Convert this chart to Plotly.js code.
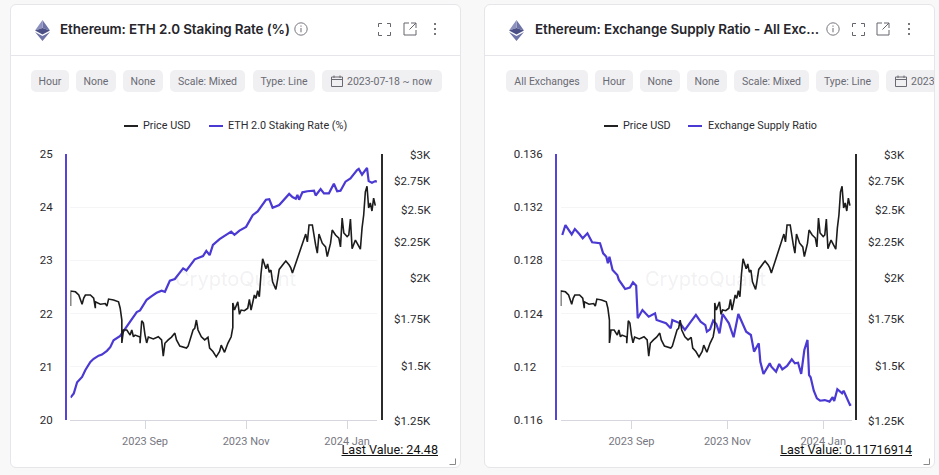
<!DOCTYPE html>
<html>
<head>
<meta charset="utf-8">
<script src="https://cdn.plot.ly/plotly-3.0.1.min.js"></script>
<style>
html, body { margin: 0; padding: 0; background: #f8f8f9; width: 939px; height: 475px; overflow: hidden; font-family: Inter, Roboto, sans-serif; }
.card { position: absolute; top: 4px; height: 462px; width: 449px; background: #fff; border: 1px solid #e6e6ea; border-radius: 6px; overflow: hidden; }
.head { position: absolute; left: 0; right: 0; top: 0; height: 50px; border-bottom: 1px solid #e6e6ea; }
.title { position: absolute; top: 16px; font-size: 13.45px; font-weight: 600; color: #26262c; white-space: nowrap; letter-spacing: -0.1px; }
.chip { position: absolute; top: 65px; height: 22px; line-height: 23px; background: #f0f0f3; border-radius: 5px; color: #6a6a72; font-family: Roboto, sans-serif; font-size: 10.5px; text-align: center; white-space: nowrap; }
.legend { position: absolute; top: 113px; font-family: Roboto, sans-serif; font-size: 10.8px; color: #2c2c30; white-space: nowrap; line-height: 16px; }
.swatch { position: absolute; height: 2px; width: 14px; top: 120px; }
.plot { position: absolute; left: 0; top: 134px; }
.last { position: absolute; top: 437px; font-family: Roboto, sans-serif; font-size: 12.6px; color: #111; text-decoration: underline; white-space: nowrap; }
.ico { position: absolute; }
</style>
</head>
<body>
<div class="card" id="card-staking" style="left:10px"></div>
<div class="card" id="card-ratio" style="left:484px"></div>
<script>
const priceDates = ["2023-07-18","2023-07-18","2023-07-21","2023-07-23","2023-07-25","2023-07-26","2023-07-27","2023-07-30","2023-08-01","2023-08-02","2023-08-02","2023-08-05","2023-08-08","2023-08-09","2023-08-10","2023-08-13","2023-08-16","2023-08-17","2023-08-18","2023-08-18","2023-08-19","2023-08-21","2023-08-23","2023-08-24","2023-08-25","2023-08-26","2023-08-29","2023-08-29","2023-08-30","2023-08-31","2023-09-01","2023-09-02","2023-09-03","2023-09-06","2023-09-09","2023-09-11","2023-09-12","2023-09-13","2023-09-15","2023-09-17","2023-09-19","2023-09-20","2023-09-22","2023-09-24","2023-09-26","2023-09-27","2023-09-29","2023-09-30","2023-10-01","2023-10-02","2023-10-03","2023-10-05","2023-10-07","2023-10-09","2023-10-10","2023-10-12","2023-10-14","2023-10-16","2023-10-17","2023-10-19","2023-10-21","2023-10-23","2023-10-24","2023-10-24","2023-10-25","2023-10-27","2023-10-28","2023-10-29","2023-10-31","2023-11-02","2023-11-03","2023-11-04","2023-11-06","2023-11-07","2023-11-08","2023-11-09","2023-11-10","2023-11-11","2023-11-13","2023-11-14","2023-11-15","2023-11-16","2023-11-17","2023-11-19","2023-11-20","2023-11-21","2023-11-24","2023-11-25","2023-11-27","2023-11-28","2023-11-29","2023-12-01","2023-12-03","2023-12-05","2023-12-06","2023-12-07","2023-12-08","2023-12-09","2023-12-11","2023-12-12","2023-12-13","2023-12-14","2023-12-15","2023-12-17","2023-12-19","2023-12-20","2023-12-22","2023-12-23","2023-12-25","2023-12-27","2023-12-28","2023-12-29","2023-12-30","2024-01-01","2024-01-02","2024-01-03","2024-01-04","2024-01-06","2024-01-07","2024-01-09","2024-01-10","2024-01-11","2024-01-12","2024-01-13","2024-01-14","2024-01-15","2024-01-16","2024-01-17","2024-01-18"];
const priceValues = [1819,1911,1906,1886,1830,1867,1886,1886,1867,1806,1844,1830,1834,1818,1861,1855,1844,1806,1737,1611,1681,1681,1653,1681,1644,1653,1642,1609,1733,1720,1653,1611,1642,1632,1644,1627,1542,1609,1627,1642,1664,1627,1594,1589,1584,1594,1644,1681,1690,1737,1681,1644,1627,1641,1584,1566,1539,1566,1599,1562,1609,1644,1695,1837,1795,1844,1770,1795,1791,1806,1859,1795,1886,1865,1913,1875,2021,2125,2056,2089,2033,2048,1970,1921,1982,2052,2095,2109,2082,2062,2028,2095,2165,2237,2260,2305,2247,2375,2375,2275,2222,2165,2305,2237,2210,2140,2237,2336,2298,2275,2210,2430,2313,2286,2298,2422,2197,2260,2237,2193,2351,2454,2648,2698,2512,2554,2487,2595,2531];

const stakingDates = ["2023-07-18","2023-07-20","2023-07-22","2023-07-25","2023-07-27","2023-07-30","2023-08-01","2023-08-04","2023-08-06","2023-08-09","2023-08-11","2023-08-13","2023-08-17","2023-08-20","2023-08-24","2023-08-27","2023-08-29","2023-09-02","2023-09-05","2023-09-08","2023-09-11","2023-09-13","2023-09-16","2023-09-19","2023-09-22","2023-09-24","2023-09-26","2023-10-01","2023-10-06","2023-10-08","2023-10-10","2023-10-12","2023-10-16","2023-10-19","2023-10-23","2023-10-25","2023-10-28","2023-11-01","2023-11-03","2023-11-05","2023-11-08","2023-11-10","2023-11-13","2023-11-15","2023-11-17","2023-11-21","2023-11-24","2023-11-27","2023-11-29","2023-12-01","2023-12-02","2023-12-03","2023-12-05","2023-12-08","2023-12-12","2023-12-13","2023-12-16","2023-12-18","2023-12-21","2023-12-24","2023-12-26","2023-12-28","2023-12-31","2024-01-03","2024-01-07","2024-01-08","2024-01-10","2024-01-13","2024-01-14","2024-01-16","2024-01-18","2024-01-19"];
const stakingValues = [20.42,20.50,20.71,20.81,20.94,21.09,21.15,21.21,21.23,21.30,21.37,21.50,21.58,21.71,21.89,22.03,22.06,22.26,22.33,22.39,22.43,22.41,22.62,22.65,22.77,22.85,22.81,23.02,23.08,23.18,23.10,23.29,23.40,23.46,23.54,23.48,23.56,23.63,23.73,23.85,23.92,24.01,24.14,24.15,23.99,24.04,24.15,24.25,24.19,24.16,24.23,24.14,24.28,24.30,24.31,24.22,24.34,24.26,24.26,24.44,24.30,24.31,24.48,24.54,24.70,24.72,24.61,24.74,24.49,24.46,24.49,24.48];

const ratioDates = ["2023-07-19","2023-07-21","2023-07-25","2023-07-27","2023-07-30","2023-08-01","2023-08-04","2023-08-07","2023-08-12","2023-08-14","2023-08-16","2023-08-17","2023-08-18","2023-08-20","2023-08-23","2023-08-24","2023-08-28","2023-08-31","2023-09-02","2023-09-04","2023-09-05","2023-09-08","2023-09-12","2023-09-16","2023-09-17","2023-09-23","2023-09-26","2023-09-27","2023-10-02","2023-10-05","2023-10-08","2023-10-12","2023-10-15","2023-10-18","2023-10-19","2023-10-21","2023-10-23","2023-10-25","2023-10-27","2023-10-29","2023-11-02","2023-11-05","2023-11-08","2023-11-11","2023-11-13","2023-11-16","2023-11-18","2023-11-21","2023-11-22","2023-11-24","2023-11-28","2023-11-29","2023-12-02","2023-12-04","2023-12-06","2023-12-09","2023-12-12","2023-12-14","2023-12-16","2023-12-18","2023-12-20","2023-12-22","2023-12-23","2023-12-24","2023-12-26","2023-12-28","2023-12-30","2024-01-02","2024-01-05","2024-01-07","2024-01-08","2024-01-10","2024-01-13","2024-01-14","2024-01-16","2024-01-18","2024-01-19"];
const ratioValues = [0.12991,0.13066,0.12996,0.13036,0.12996,0.12966,0.13004,0.12936,0.12929,0.12853,0.12828,0.12778,0.12828,0.12728,0.12690,0.12653,0.12585,0.12595,0.12635,0.12610,0.12365,0.12427,0.12377,0.12402,0.12352,0.12327,0.12289,0.12352,0.12327,0.12277,0.12327,0.12390,0.12339,0.12314,0.12264,0.12282,0.12347,0.12322,0.12252,0.12397,0.12327,0.12222,0.12397,0.12314,0.12264,0.12239,0.12114,0.12177,0.12038,0.11946,0.12026,0.12001,0.11963,0.12021,0.11981,0.12006,0.12056,0.12026,0.12031,0.11946,0.12126,0.12202,0.11938,0.11921,0.11820,0.11763,0.11745,0.11750,0.11738,0.11771,0.11743,0.11831,0.11801,0.11820,0.11763,0.11713,0.11716914];

const priceTicks = [1250, 1500, 1750, 2000, 2250, 2500, 2750, 3000];
const priceTickLabels = ["$1.25K", "$1.5K", "$1.75K", "$2K", "$2.25K", "$2.5K", "$2.75K", "$3K"];
const xTicks = ["2023-09-01", "2023-11-01", "2024-01-01"];
const stakingTicks = [20, 21, 22, 23, 24, 25];
const stakingTickLabels = ["20", "21", "22", "23", "24", "25"];
const ratioTicks = [0.116, 0.12, 0.124, 0.128, 0.132, 0.136];
const ratioTickLabels = ["0.116", "0.12\u2007", "0.124", "0.128", "0.132", "0.136"];

const BLUE = "#4a39d3";
const FONT = "Roboto, Inter, sans-serif";

const ETH_ICON = `<svg width="15" height="21" viewBox="0 0 15 21"><polygon points="7.5,0 15,10.5 7.5,8" fill="#6f74a8"/><polygon points="7.5,0 0,10.5 7.5,8" fill="#8d91bd"/><polygon points="7.5,8 15,10.5 7.5,14.5 0,10.5" fill="#4a4f85"/><polygon points="0,12 7.5,16 15,12 7.5,21" fill="#6f74a8"/></svg>`;
const INFO_ICON = `<svg width="14" height="14" viewBox="0 0 14 14"><circle cx="7" cy="7" r="6.2" fill="none" stroke="#77777f"/><path d="M7 6v4.2M7 3.6v1.2" stroke="#77777f" stroke-width="1.1"/></svg>`;
const FULL_ICON = `<svg width="13" height="13" viewBox="0 0 13 13"><path d="M.5 4V.5H4M9 .5h3.5V4M12.5 9v3.5H9M4 12.5H.5V9" fill="none" stroke="#66666e"/></svg>`;
const OPEN_ICON = `<svg width="14" height="14" viewBox="0 0 14 14"><path d="M6 1H1v12h12V8M8 1h5v5M13 1 6.5 7.5" fill="none" stroke="#66666e"/></svg>`;
const DOTS_ICON = `<svg width="4" height="14" viewBox="0 0 4 14"><circle cx="2" cy="2" r="1.1" fill="#55555c"/><circle cx="2" cy="7" r="1.1" fill="#55555c"/><circle cx="2" cy="12" r="1.1" fill="#55555c"/></svg>`;
const DATE_CHIP = `<svg width="12" height="12" viewBox="0 0 12 12" style="vertical-align:-2px;margin:0 4px 0 9px"><path d="M.5 2h11v9.5H.5zM.5 4.5h11M3 .5V3M9 .5V3" fill="none" stroke="#6a6a72"/></svg>2023-07-18 ~ now`;

function place(card, html, cls, style) {
	const el = document.createElement("div");
	el.className = cls;
	el.innerHTML = html;
	el.style.cssText = style;
	card.appendChild(el);
	return el;
}

function buildCard(c) {
	const card = document.getElementById(c.cardId);
	place(card, "", "head", "");
	place(card, ETH_ICON, "ico", "left:24px;top:15px");
	place(card, c.title, "title", `left:${c.titleX}px`);
	c.icons.forEach(([icon, x, y]) => place(card, icon, "ico", `left:${x}px;top:${y}px;line-height:0`));
	c.chips.forEach(([text, x, w]) => place(card, text, "chip", `left:${x}px;width:${w}px`));
	place(card, DATE_CHIP, "chip", `left:${c.dateChipX}px;width:120px;text-align:left`);
	place(card, "", "swatch", `left:${c.legendX[0]}px;background:#222;height:1.5px`);
	place(card, "Price USD", "legend", `left:${c.legendX[1]}px`);
	place(card, "", "swatch", `left:${c.legendX[2]}px;background:${BLUE}`);
	place(card, c.name, "legend", `left:${c.legendX[3]}px`);
	place(card, c.last, "last", "right:22px");
	place(card, `<svg width="7" height="7"><path d="M.5 6.5H6.5V.5" fill="none" stroke="#888"/></svg>`, "ico", "right:4px;bottom:2px;line-height:0");

	const plot = place(card, "", "plot", "");
	const data = [
		{
			x: c.dates, y: c.values, type: "scatter", mode: "lines", yaxis: "y", name: c.name,
			line: { color: BLUE, width: 2.2 }, hoverinfo: "skip",
		},
		{
			x: priceDates, y: priceValues, type: "scatter", mode: "lines", yaxis: "y2", name: "Price USD",
			line: { color: "#1c1c1c", width: 1.6 }, hoverinfo: "skip",
		},
	];
	const annotations = priceTicks.map((t, i) => ({
		xref: "paper", yref: "y2", x: 1, y: Math.log10(t), text: priceTickLabels[i],
		xanchor: "right", yanchor: "middle", xshift: 51, yshift: -1, showarrow: false,
		font: { family: FONT, size: 11.5, color: "#2a2a2e" },
	}));
	annotations.push({
		xref: "paper", yref: "paper", x: c.markX, y: 0.53, text: "CryptoQuant", showarrow: false,
		font: { family: "Inter, sans-serif", size: 20, color: "rgba(120,120,140,0.11)" },
	});
	const layout = {
		width: 449, height: 325,
		margin: { t: 15, b: 44, l: c.marginL, r: c.marginR, pad: 0 },
		paper_bgcolor: "rgba(0,0,0,0)", plot_bgcolor: "rgba(0,0,0,0)",
		showlegend: false, hovermode: false,
		xaxis: {
			domain: c.xDomain, range: ["2023-07-18", "2024-01-19"], type: "date",
			tickvals: xTicks, tickformat: "%Y %b", ticks: "outside", ticklen: 8, tickcolor: "#d6d6de",
			showgrid: false, showline: true, linecolor: "#d6d6de", zeroline: false, ticklabelstandoff: 3,
			tickfont: { family: FONT, size: 11, color: "#77777f" },
		},
		yaxis: {
			anchor: "free", position: 0, range: c.yRange, tickvals: c.yTicks, ticktext: c.yLabels,
			showline: true, linecolor: "#5544d6", linewidth: 2, ticks: "", ticklabelstandoff: 10,
			gridcolor: "#f5f5f7", zeroline: false,
			tickfont: { family: FONT, size: 11.5, color: "#2a2a2e" },
		},
		yaxis2: {
			overlaying: "y", side: "right", anchor: "free", position: 1, type: "log",
			range: [Math.log10(priceTicks[0]), Math.log10(priceTicks[priceTicks.length - 1])],
			showline: true, linecolor: "#2b2b2b", linewidth: 2, showgrid: false, zeroline: false,
			showticklabels: false, ticks: "",
		},
		annotations,
	};
	Plotly.newPlot(plot, data, layout, { displayModeBar: false, staticPlot: true });
}

buildCard({
	cardId: "card-staking",
	title: "Ethereum: ETH 2.0 Staking Rate (%)",
	titleX: 49,
	name: "ETH 2.0 Staking Rate (%)",
	last: "Last Value: 24.48",
	icons: [[INFO_ICON, 283, 17], [FULL_ICON, 367, 18], [OPEN_ICON, 392, 17], [DOTS_ICON, 422, 17]],
	chips: [["Hour", 20, 38], ["None", 65, 40], ["None", 112, 40], ["Scale: Mixed", 159, 75], ["Type: Line", 242, 62]],
	dateChipX: 311,
	legendX: [113, 132, 198, 217],
	dates: stakingDates, values: stakingValues,
	yRange: [20, 25], yTicks: stakingTicks, yLabels: stakingTickLabels,
	marginL: 55, marginR: 78, xDomain: [0.0142, 0.984], markX: 0.535,
});

buildCard({
	cardId: "card-ratio",
	title: "Ethereum: Exchange Supply Ratio - All Exc\u2026",
	titleX: 50,
	name: "Exchange Supply Ratio",
	last: "Last Value: 0.11716914",
	icons: [[INFO_ICON, 341, 17], [FULL_ICON, 367, 18], [OPEN_ICON, 391, 17], [DOTS_ICON, 422, 17]],
	chips: [["All Exchanges", 21, 82], ["Hour", 110, 38], ["None", 155, 40], ["None", 202, 40], ["Scale: Mixed", 249, 75], ["Type: Line", 331, 63]],
	dateChipX: 401,
	legendX: [119, 138, 203, 223],
	dates: ratioDates, values: ratioValues,
	yRange: [0.116, 0.136], yTicks: ratioTicks, yLabels: ratioTickLabels,
	marginL: 71, marginR: 78, xDomain: [0.0157, 0.985], markX: 0.497,
});
</script>
</body>
</html>
